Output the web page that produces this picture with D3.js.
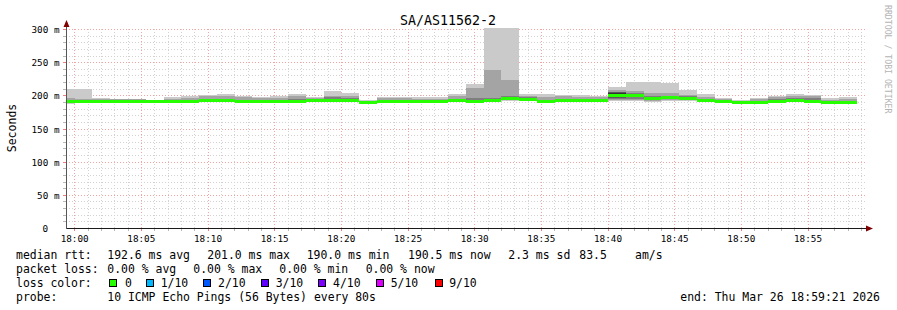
<!DOCTYPE html>
<html><head><meta charset="utf-8">
<script src="https://cdn.jsdelivr.net/npm/d3@7"></script>
<style>
body{margin:0;background:#fff}
svg{display:block}
text{font-family:"DejaVu Sans Mono",monospace;fill:#000}
</style>
</head><body>
<svg id="c" width="897" height="310"></svg>
<script>
// ---------- data ----------
const chartTitle = "SA/AS11562-2";
const yTitle = "Seconds";
const day = "2026-03-26";
const windowStart = "17:59:21";
const windowEnd = "18:59:21";
const stepSeconds = 80;
// start time of each 80 s measurement bin
const binStarts = ["17:58:40","18:00:00","18:01:20","18:02:40","18:04:00","18:05:20","18:06:40","18:08:00","18:09:20","18:10:40",
  "18:12:00","18:13:20","18:14:40","18:16:00","18:17:20","18:18:40","18:20:00","18:21:20","18:22:40","18:24:00",
  "18:25:20","18:26:40","18:28:00","18:29:20","18:30:40","18:32:00","18:33:20","18:34:40","18:36:00","18:37:20",
  "18:38:40","18:40:00","18:41:20","18:42:40","18:44:00","18:45:20","18:46:40","18:48:00","18:49:20","18:50:40",
  "18:52:00","18:53:20","18:54:40","18:56:00","18:57:20"];
// 10 sorted ping RTTs per bin (ms)
const pings = [
  [188,190.5,191,191.5,191.8,192.2,192.6,193.5,196,210],
  [190.5,191,191.4,191.7,191.9,192.1,192.5,193,195,210],
  [190.8,191.2,191.5,191.8,191.9,192.1,192.4,193,194.5,197],
  [190.8,191.3,191.6,191.8,191.9,192.1,192.5,193.2,194.5,195],
  [191,191.3,191.6,191.8,191.9,192.1,192.3,192.8,194.5,195],
  [190.6,190.9,191.1,191.3,191.4,191.6,191.8,192.1,192.6,193.3],
  [190.8,191.2,191.5,191.7,191.9,192.1,192.4,193,195,198.5],
  [190.9,191.2,191.5,191.7,191.9,192.1,192.5,193.4,197,200.5],
  [191,191.4,191.8,192.1,192.4,192.6,193.2,195,199.5,201.5],
  [191.2,191.6,191.9,192.2,192.4,192.6,193.3,195.5,200,202.5],
  [190.9,191.3,191.6,191.8,191.9,192.1,192.6,194,198,200.5],
  [190.8,191.2,191.5,191.7,191.9,192.1,192.4,193.2,196,198.5],
  [190.3,190.7,191,191.2,191.4,191.6,192,193,197,200.5],
  [190.8,191.2,191.5,191.8,191.9,192.1,192.8,195,199,202.5],
  [191.5,192,192.4,192.7,192.9,193.1,193.5,194.5,196.5,198.5],
  [190.5,191.5,192.3,192.8,193.2,193.8,195,197.8,200.5,207],
  [191.5,192.2,192.7,193.1,193.4,193.6,194.2,196,199.5,205],
  [188,188.8,189.5,190,190.4,190.6,191,191.5,192.3,193],
  [189.8,190.5,190.9,191.2,191.4,191.6,192,193,196,198.5],
  [190.5,191,191.4,191.7,191.9,192.1,192.5,193.3,196,198.5],
  [190.5,191,191.4,191.7,191.9,192.1,192.5,193.2,195.5,198],
  [190.5,191,191.4,191.7,191.9,192.1,192.4,193,195,197.5],
  [191.2,191.8,192.3,192.6,192.9,193.1,193.6,195,199,202.5],
  [190.5,191,191.5,191.8,191.9,192.1,193,196,212,218],
  [191,191.8,192.4,192.7,192.9,193.1,194,197,239,302.5],
  [192.5,193.5,194.3,194.9,195.3,195.7,196.5,199,224,302.5],
  [191.8,192.5,193,193.5,193.8,194.2,195,197.5,200.5,203.5],
  [189.5,190.2,190.8,191.1,191.4,191.6,192.2,193.5,198,203.5],
  [191,191.7,192.2,192.6,192.9,193.1,193.8,195.5,199,201.5],
  [191,191.7,192.2,192.6,192.9,193.1,193.7,195,198.5,201.5],
  [191.5,192.1,192.6,193,193.3,193.7,194.2,195.2,197.5,199.5],
  [191.5,193,194.5,196,197.5,204.5,205.5,206.5,209,213.5],
  [192,193.5,195,197.5,199.5,201.5,202.5,204,207,221],
  [191,192.5,193.5,194.8,195.6,196.4,198,200.5,205,221],
  [192,193.5,194.5,195.8,196.6,197.4,198.5,200.5,204,219.5],
  [191.5,193,194.2,195.2,195.7,196.3,197.2,199,202,209.5],
  [190.8,191.4,191.8,192.1,192.3,192.7,193.3,194.8,198.5,203.5],
  [190.5,191,191.4,191.7,191.9,192.1,192.5,193.2,194.8,196.5],
  [188,188.8,189.4,189.9,190.3,190.7,191.1,191.6,192.3,193],
  [188,188.9,189.5,190,190.3,190.7,191.2,192.2,194.5,196.5],
  [190.5,191,191.4,191.7,191.9,192.1,192.8,194.5,198,200.5],
  [191,191.7,192.2,192.6,192.9,193.1,194.5,197,200.5,202.5],
  [190.5,191,191.4,191.7,191.9,192.1,193.5,196.5,200,201.5],
  [187.8,188.5,189.1,189.6,189.9,190.1,190.7,191.8,194,196.5],
  [188.5,189.2,189.7,190.1,190.4,190.6,191.1,192.2,195.5,198.5]
];
// packet loss per bin (out of 10)
const loss = [0,0,0,0,0,0,0,0,0,0,0,0,0,0,0,0,0,0,0,0,0,0,0,0,0,0,0,0,0,0,0,0,0,0,0,0,0,0,0,0,0,0,0,0,0];
const yTicks = [0,50,100,150,200,250,300];
const yTickLabels = ["0","50 m","100 m","150 m","200 m","250 m","300 m"];
const xTickLabels = ["18:00","18:05","18:10","18:15","18:20","18:25","18:30","18:35","18:40","18:45","18:50","18:55"];
const lossLevels = [0,1,2,3,4,5,9];
const lossLabels = ["0","1/10","2/10","3/10","4/10","5/10","9/10"];
const lossColors = ["#26ff00","#00b8ff","#0059ff","#5e00ff","#7e00ff","#dd00ff","#ff0000"];
const rttStats = ["192.6 ms avg","201.0 ms max","190.0 ms min","190.5 ms now","2.3 ms sd","83.5","am/s"];
const lossStats = ["0.00 % avg","0.00 % max","0.00 % min","0.00 % now"];
const probeText = "10 ICMP Echo Pings (56 Bytes) every 80s";
const endText = "end: Thu Mar 26 18:59:21 2026";
const watermark = "RRDTOOL / TOBI OETIKER";

// ---------- drawing ----------
const svg = d3.select("#c");
const parse = d3.timeParse("%Y-%m-%d %H:%M:%S");
const T = s => parse(day + " " + s);
const t0 = T(windowStart), t1 = T(windowEnd);
const x = d3.scaleTime().domain([t0, t1]).range([66, 866]);
const y = d3.scaleLinear().domain([0, 300]).range([228.5, 29.5]);
const px = v => Math.floor(v) + 0.5;

const clipId = "plotclip";
svg.append("defs").append("clipPath").attr("id", clipId)
  .append("rect").attr("x", 66).attr("y", 20).attr("width", 800).attr("height", 209);

// grid
const grid = svg.append("g").attr("shape-rendering", "crispEdges");
const minutes = d3.timeMinute.every(1).range(t0, t1);
minutes.forEach(m => {
  const major = m.getMinutes() % 5 === 0;
  const xx = px(x(m));
  grid.append("line").attr("x1", xx).attr("x2", xx).attr("y1", 29).attr("y2", 228)
    .attr("stroke", major ? "#f4a3a3" : "#d2d2d2").attr("stroke-dasharray", "1,2");
  grid.append("line").attr("x1", xx).attr("x2", xx).attr("y1", 229).attr("y2", 231)
    .attr("stroke", major ? "#f08080" : "#b8b8b8");
});
d3.range(10, 301, 10).forEach(v => {
  const major = v % 50 === 0;
  const yy = px(y(v));
  grid.append("line").attr("x1", 66).attr("x2", 866).attr("y1", yy).attr("y2", yy)
    .attr("stroke", major ? "#f4a3a3" : "#d2d2d2").attr("stroke-dasharray", "1,2");
  grid.append("line").attr("x1", 63).attr("x2", 66).attr("y1", yy).attr("y2", yy)
    .attr("stroke", major ? "#f08080" : "#b8b8b8");
});

// smoke
const smokeColors = ["#cacaca","#a4a4a4","#7e7e7e","#585858","#323232"];
const bins = binStarts.map((s, i) => {
  const a = T(s);
  return { a, b: new Date(+a + stepSeconds * 1000), p: pings[i], loss: loss[i],
           med: (pings[i][4] + pings[i][5]) / 2 };
});
const plot = svg.append("g").attr("clip-path", `url(#${clipId})`).attr("shape-rendering", "crispEdges");
const bx = d => Math.round(x(d.a));
const bw = d => Math.round(x(d.b)) - Math.round(x(d.a));
smokeColors.forEach((c, j) => {
  plot.append("g").selectAll("rect").data(bins).join("rect")
    .attr("x", bx).attr("width", bw)
    .attr("y", d => y(d.p[9 - j]))
    .attr("height", d => Math.max(0, y(d.p[j]) - y(d.p[9 - j])))
    .attr("fill", c);
});
// median (coloured by loss)
const lossColor = l => { let c = lossColors[0]; lossLevels.forEach((lv, i) => { if (l >= lv) c = lossColors[i]; }); return c; };
plot.append("g").selectAll("rect").data(bins).join("rect")
  .attr("x", bx).attr("width", bw)
  .attr("y", d => y(d.med) - 1.4).attr("height", 2.8)
  .attr("fill", d => lossColor(d.loss));

// axes
const ax = svg.append("g").attr("shape-rendering", "crispEdges");
ax.append("line").attr("x1", 66).attr("x2", 867).attr("y1", 228.5).attr("y2", 228.5).attr("stroke", "#1a1a1a");
ax.append("line").attr("x1", 66.5).attr("x2", 66.5).attr("y1", 26).attr("y2", 229).attr("stroke", "#555");
svg.append("path").attr("d", "M866,225.5 L873,228.5 L866,231.5 Z").attr("fill", "#800000");
svg.append("path").attr("d", "M63.5,27 L66.5,20 L69.5,27 Z").attr("fill", "#800000");

// y labels
svg.append("g").selectAll("text").data(yTicks).join("text")
  .attr("x", (d, i) => yTickLabels[i] === "0" ? 48 : 59.5)
  .attr("y", d => y(d) + 3.5)
  .attr("text-anchor", "end").attr("font-size", "9.3px")
  .text((d, i) => yTickLabels[i]);
// x labels
const xt = d3.timeMinute.every(5).range(t0, t1);
svg.append("g").selectAll("text").data(xt).join("text")
  .attr("x", d => x(d)).attr("y", 241.5)
  .attr("text-anchor", "middle").attr("font-size", "9.3px")
  .text((d, i) => xTickLabels[i]);

// titles
svg.append("text").attr("x", 448).attr("y", 24.5).attr("text-anchor", "middle")
  .attr("font-size", "13.3px").text(chartTitle);
svg.append("text").attr("transform", "translate(16,128) rotate(-90)")
  .attr("text-anchor", "middle").attr("font-size", "11.5px").text(yTitle);
svg.append("text").attr("transform", "translate(884.5,5) rotate(90)")
  .attr("font-size", "8.2px").style("fill", "#b4b4b4").text(watermark);

// legend
const fs = "11.45px";
const L = (tx, xx, yy, anchor) => svg.append("text").attr("x", xx).attr("y", yy)
  .attr("font-size", fs).attr("text-anchor", anchor || "start").attr("xml:space", "preserve").text(tx);
L("median rtt:", 16, 258.5);
const rttX = [107.3, 207.3, 306.7, 408, 508.3, 579.3, 635];
rttStats.forEach((s, i) => L(s, rttX[i], 258.5));
L("packet loss:", 16, 272.5);
const lossX = [107.3, 193.3, 279.3, 365.7];
lossStats.forEach((s, i) => L(s, lossX[i], 272.5));
L("loss color:", 16, 286.5);
const boxX = [109, 146, 203.3, 261, 318.3, 376, 434.5];
lossLabels.forEach((s, i) => {
  svg.append("rect").attr("x", boxX[i] + 0.5).attr("y", 279.5).attr("width", 7).attr("height", 7)
    .attr("fill", lossColors[i]).attr("stroke", "#000").attr("stroke-width", 1).attr("shape-rendering", "crispEdges");
  L(s, boxX[i] + (i === 0 ? 16 : 14.7), 286.5);
});
L("probe:", 16, 300.5);
L(probeText, 107.3, 300.5);
L(endText, 880, 300.5, "end");
</script>
</body></html>
